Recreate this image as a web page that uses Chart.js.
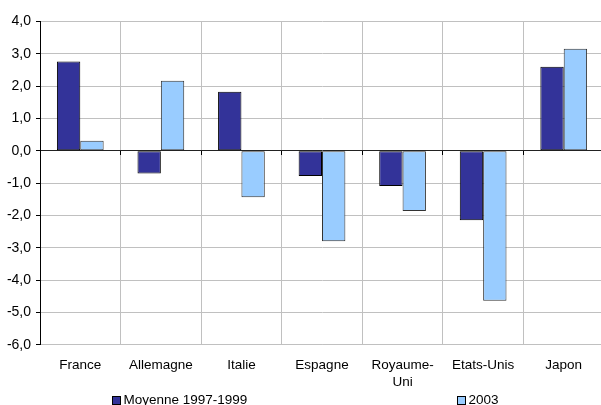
<!DOCTYPE html>
<html>
<head>
<meta charset="utf-8">
<script src="https://cdn.jsdelivr.net/npm/chart.js@4.4.0/dist/chart.umd.min.js"></script>
<style>
  html, body { margin: 0; padding: 0; background: #fff; overflow: hidden; }
  #wrap { width: 601px; height: 405px; overflow: hidden; }
</style>
</head>
<body>
<div id="wrap"><canvas id="chart" width="604" height="405"></canvas></div>
<script>
// Pays et valeurs (moyenne 1997-1999 et 2003)
const categories = ['France', 'Allemagne', 'Italie', 'Espagne', ['Royaume-', 'Uni'], 'Etats-Unis', 'Japon'];
const moyenne9799 = [2.76, -0.70, 1.83, -0.78, -1.09, -2.15, 2.60];
const annee2003 = [0.31, 2.17, -1.44, -2.80, -1.86, -4.64, 3.16];
const seriesLabels = ['Moyenne 1997-1999', '2003'];
const yTickLabels = ['-6,0', '-5,0', '-4,0', '-3,0', '-2,0', '-1,0', '0,0', '1,0', '2,0', '3,0', '4,0'];

const FONT = '"Liberation Sans", Arial, sans-serif';

// Légende dessinée sous l'axe, items écartés
const legendPlugin = {
    id: 'bottomLegend',
    afterDraw(chart) {
        const ctx = chart.ctx;
        const xs = [112.5, 457.5];
        ctx.save();
        ctx.font = '13.5px ' + FONT;
        ctx.textBaseline = 'middle';
        chart.data.datasets.forEach((ds, i) => {
            ctx.fillStyle = ds.backgroundColor;
            ctx.fillRect(xs[i], 396.5, 8, 8);
            ctx.strokeStyle = '#000';
            ctx.lineWidth = 1;
            ctx.strokeRect(xs[i], 396.5, 8, 8);
            ctx.fillStyle = '#000';
            ctx.fillText(ds.label, xs[i] + 11, 400.5);
        });
        ctx.restore();
    }
};

new Chart(document.getElementById('chart').getContext('2d'), {
    type: 'bar',
    data: {
        labels: categories,
        datasets: [{
            label: seriesLabels[0],
            data: moyenne9799,
            backgroundColor: '#333399',
            borderColor: '#000000',
            borderWidth: 1,
            borderSkipped: false
        }, {
            label: seriesLabels[1],
            data: annee2003,
            backgroundColor: '#99CCFF',
            borderColor: '#333333',
            borderWidth: 1,
            borderSkipped: false
        }]
    },
    options: {
        responsive: false,
        animation: false,
        categoryPercentage: 0.58,
        barPercentage: 1,
        layout: { padding: { top: 21.5, left: 0, right: 0, bottom: 0 } },
        plugins: {
            legend: { display: false },
            tooltip: { enabled: false }
        },
        scales: {
            x: {
                offset: true,
                grid: {
                    offset: true,
                    color: '#c0c0c0',
                    drawTicks: false
                },
                border: { color: '#c0c0c0' },
                ticks: {
                    color: '#000',
                    padding: 11.5,
                    maxRotation: 0,
                    autoSkip: false,
                    font: { family: FONT, size: 13.5, lineHeight: 1.3 }
                },
                afterFit: s => { s.height = 60.3; }
            },
            // petites graduations sur la ligne du zéro
            xZero: {
                type: 'category',
                axis: 'x',
                position: { y: 0 },
                offset: true,
                grid: {
                    offset: true,
                    drawOnChartArea: false,
                    drawTicks: true,
                    tickLength: 4,
                    tickColor: '#000'
                },
                border: { display: false },
                ticks: { display: false }
            },
            y: {
                min: -6,
                max: 4,
                ticks: {
                    stepSize: 1,
                    color: '#000',
                    padding: 5,
                    font: { family: FONT, size: 14 },
                    callback: (value, index) => yTickLabels[index]
                },
                grid: {
                    color: c => (c.tick && c.tick.value === 0) ? '#222' : '#c0c0c0',
                    tickColor: '#000',
                    tickLength: 4
                },
                border: { color: '#000' },
                afterFit: s => { s.width = 40; }
            }
        }
    },
    plugins: [legendPlugin]
});
</script>
</body>
</html>
